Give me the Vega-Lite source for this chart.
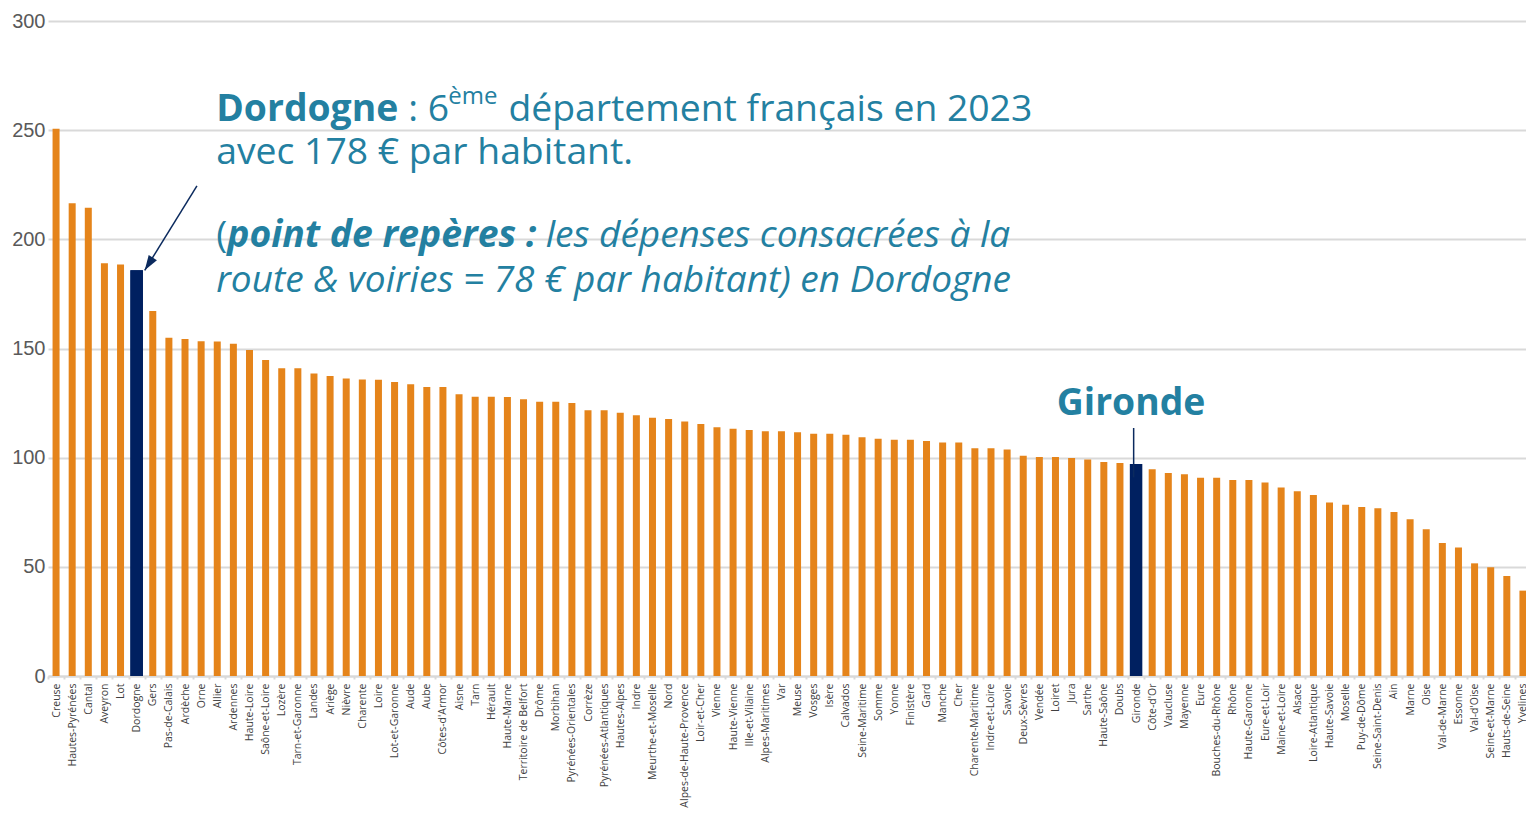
{
  "$schema": "https://vega.github.io/schema/vega-lite/v6.json",
  "width": 1478,
  "height": 655,
  "autosize": {"type": "none"},
  "padding": {"left": 48, "top": 21, "right": 0, "bottom": 143},
  "background": "#ffffff",
  "config": {"view": {"stroke": null}, "font": "Open Sans"},
  "datasets": {
    "bars": [
      {"d": "Creuse", "v": 250.6},
      {"d": "Hautes-Pyrénées", "v": 216.5},
      {"d": "Cantal", "v": 214.5},
      {"d": "Aveyron", "v": 189.1},
      {"d": "Lot", "v": 188.5},
      {"d": "Dordogne", "v": 185.8},
      {"d": "Gers", "v": 167.2},
      {"d": "Pas-de-Calais", "v": 154.9},
      {"d": "Ardèche", "v": 154.3},
      {"d": "Orne", "v": 153.3},
      {"d": "Allier", "v": 153.2},
      {"d": "Ardennes", "v": 152.2},
      {"d": "Haute-Loire", "v": 149.3},
      {"d": "Saône-et-Loire", "v": 144.7},
      {"d": "Lozère", "v": 140.9},
      {"d": "Tarn-et-Garonne", "v": 140.9},
      {"d": "Landes", "v": 138.6},
      {"d": "Ariège", "v": 137.4},
      {"d": "Nièvre", "v": 136.3},
      {"d": "Charente", "v": 135.8},
      {"d": "Loire", "v": 135.7},
      {"d": "Lot-et-Garonne", "v": 134.7},
      {"d": "Aude", "v": 133.6},
      {"d": "Aube", "v": 132.4},
      {"d": "Côtes-d'Armor", "v": 132.4},
      {"d": "Aisne", "v": 129.0},
      {"d": "Tarn", "v": 127.9},
      {"d": "Hérault", "v": 127.9},
      {"d": "Haute-Marne", "v": 127.8},
      {"d": "Territoire de Belfort", "v": 126.7},
      {"d": "Drôme", "v": 125.6},
      {"d": "Morbihan", "v": 125.6},
      {"d": "Pyrénées-Orientales", "v": 125.0},
      {"d": "Corrèze", "v": 121.7},
      {"d": "Pyrénées-Atlantiques", "v": 121.7},
      {"d": "Hautes-Alpes", "v": 120.6},
      {"d": "Indre", "v": 119.4},
      {"d": "Meurthe-et-Moselle", "v": 118.3},
      {"d": "Nord", "v": 117.7},
      {"d": "Alpes-de-Haute-Provence", "v": 116.6},
      {"d": "Loir-et-Cher", "v": 115.4},
      {"d": "Vienne", "v": 113.9},
      {"d": "Haute-Vienne", "v": 113.3},
      {"d": "Ille-et-Vilaine", "v": 112.7},
      {"d": "Alpes-Maritimes", "v": 112.1},
      {"d": "Var", "v": 112.1},
      {"d": "Meuse", "v": 111.6},
      {"d": "Vosges", "v": 111.0},
      {"d": "Isère", "v": 111.0},
      {"d": "Calvados", "v": 110.5},
      {"d": "Seine-Maritime", "v": 109.3},
      {"d": "Somme", "v": 108.7},
      {"d": "Yonne", "v": 108.2},
      {"d": "Finistère", "v": 108.2},
      {"d": "Gard", "v": 107.6},
      {"d": "Manche", "v": 107.0},
      {"d": "Cher", "v": 107.0},
      {"d": "Charente-Maritime", "v": 104.3},
      {"d": "Indre-et-Loire", "v": 104.3},
      {"d": "Savoie", "v": 103.7},
      {"d": "Deux-Sèvres", "v": 100.9},
      {"d": "Vendée", "v": 100.3},
      {"d": "Loiret", "v": 100.3},
      {"d": "Jura", "v": 99.8},
      {"d": "Sarthe", "v": 99.2},
      {"d": "Haute-Saône", "v": 98.0},
      {"d": "Doubs", "v": 97.6},
      {"d": "Gironde", "v": 97.1},
      {"d": "Côte-d'Or", "v": 94.7},
      {"d": "Vaucluse", "v": 93.0},
      {"d": "Mayenne", "v": 92.4},
      {"d": "Eure", "v": 90.8},
      {"d": "Bouches-du-Rhône", "v": 90.8},
      {"d": "Rhône", "v": 89.8},
      {"d": "Haute-Garonne", "v": 89.8},
      {"d": "Eure-et-Loir", "v": 88.6},
      {"d": "Maine-et-Loire", "v": 86.3},
      {"d": "Alsace", "v": 84.6},
      {"d": "Loire-Atlantique", "v": 82.9},
      {"d": "Haute-Savoie", "v": 79.5},
      {"d": "Moselle", "v": 78.4},
      {"d": "Puy-de-Dôme", "v": 77.4},
      {"d": "Seine-Saint-Denis", "v": 76.8},
      {"d": "Ain", "v": 75.1},
      {"d": "Marne", "v": 71.8},
      {"d": "Oise", "v": 67.2},
      {"d": "Val-de-Marne", "v": 60.9},
      {"d": "Essonne", "v": 58.8},
      {"d": "Val-d'Oise", "v": 51.6},
      {"d": "Seine-et-Marne", "v": 49.8},
      {"d": "Hauts-de-Seine", "v": 45.8},
      {"d": "Yvelines", "v": 39.1}
    ]
  },
  "layer": [
    {
      "data": {"name": "bars"},
      "mark": {"type": "bar", "clip": false},
      "encoding": {
        "x": {
          "field": "d",
          "type": "nominal",
          "title": null,
          "scale": {
            "domain": ["Creuse","Hautes-Pyrénées","Cantal","Aveyron","Lot","Dordogne","Gers","Pas-de-Calais","Ardèche","Orne","Allier","Ardennes","Haute-Loire","Saône-et-Loire","Lozère","Tarn-et-Garonne","Landes","Ariège","Nièvre","Charente","Loire","Lot-et-Garonne","Aude","Aube","Côtes-d'Armor","Aisne","Tarn","Hérault","Haute-Marne","Territoire de Belfort","Drôme","Morbihan","Pyrénées-Orientales","Corrèze","Pyrénées-Atlantiques","Hautes-Alpes","Indre","Meurthe-et-Moselle","Nord","Alpes-de-Haute-Provence","Loir-et-Cher","Vienne","Haute-Vienne","Ille-et-Vilaine","Alpes-Maritimes","Var","Meuse","Vosges","Isère","Calvados","Seine-Maritime","Somme","Yonne","Finistère","Gard","Manche","Cher","Charente-Maritime","Indre-et-Loire","Savoie","Deux-Sèvres","Vendée","Loiret","Jura","Sarthe","Haute-Saône","Doubs","Gironde","Côte-d'Or","Vaucluse","Mayenne","Eure","Bouches-du-Rhône","Rhône","Haute-Garonne","Eure-et-Loir","Maine-et-Loire","Alsace","Loire-Atlantique","Haute-Savoie","Moselle","Puy-de-Dôme","Seine-Saint-Denis","Ain","Marne","Oise","Val-de-Marne","Essonne","Val-d'Oise","Seine-et-Marne","Hauts-de-Seine","Yvelines"],
            "range": [0, 1483],
            "paddingInner": 0,
            "paddingOuter": 0
          },
          "axis": {
            "labelAngle": -90,
            "labelFont": "Open Sans",
            "labelFontSize": 10.5,
            "labelColor": "#404040",
            "labelOverlap": false,
            "labelLimit": 300,
            "labelPadding": 4,
            "domainColor": "#d9d9d9",
            "domainWidth": 2,
            "tickColor": "#d9d9d9",
            "tickWidth": 2,
            "tickSize": 3,
            "tickBand": "extent",
            "grid": false,
            "zindex": 0
          }
        },
        "y": {
          "field": "v",
          "type": "quantitative",
          "title": null,
          "scale": {"domain": [0, 300], "nice": false, "zero": true},
          "axis": {
            "values": [0, 50, 100, 150, 200, 250, 300],
            "domain": false,
            "ticks": false,
            "labelFont": "Liberation Sans",
            "labelFontSize": 20,
            "labelColor": "#595959",
            "labelPadding": 3,
            "gridColor": "#d9d9d9",
            "gridWidth": 2
          }
        },
        "color": {
          "condition": {"test": "datum.d === 'Dordogne' || datum.d === 'Gironde'", "value": "#002060"},
          "value": "#e5841a"
        },
        "size": {
          "condition": {"test": "datum.d === 'Dordogne' || datum.d === 'Gironde'", "value": 12.5},
          "value": 7
        }
      }
    },
    {
      "data": {"values": [
        {"x": "Orne", "x2": "Dordogne", "y": 224.5, "y2": 185.8}
      ]},
      "mark": {"type": "rule", "color": "#0b2a5e", "strokeWidth": 1.5},
      "encoding": {
        "x": {"field": "x", "type": "nominal", "bandPosition": 0.24},
        "x2": {"field": "x2", "bandPosition": 1.0},
        "y": {"field": "y", "type": "quantitative"},
        "y2": {"field": "y2"}
      }
    },
    {
      "data": {"values": [
        {"x": "Gironde", "y": 113.6, "y2": 91.0}
      ]},
      "mark": {"type": "rule", "color": "#0b2a5e", "strokeWidth": 1.5},
      "encoding": {
        "x": {"field": "x", "type": "nominal", "bandPosition": 0.35},
        "y": {"field": "y", "type": "quantitative"},
        "y2": {"field": "y2"}
      }
    },
    {
      "data": {"values": [{"x": "Dordogne", "y": 185.8}]},
      "mark": {"type": "point", "shape": "M0,0 L-0.65,2 L0.65,2 Z", "filled": true, "opacity": 1, "color": "#0b2a5e", "size": 225, "angle": 212.7},
      "encoding": {
        "x": {"field": "x", "type": "nominal", "bandPosition": 1.0},
        "y": {"field": "y", "type": "quantitative"}
      }
    },
    {
      "data": {"values": [{"x": "Dordogne", "y": 185.8}]},
      "mark": {"type": "bar", "color": "#002060", "size": 12.5},
      "encoding": {
        "x": {"field": "x", "type": "nominal"},
        "y": {"field": "y", "type": "quantitative"}
      }
    },
    {
      "data": {"values": [{"x": "Allier", "y": 254.2, "t": "Dordogne"}]},
      "mark": {"type": "text", "font": "Open Sans", "fontSize": 37.3, "fontWeight": "bold", "color": "#2380a1", "align": "left", "baseline": "alphabetic", "dx": -1},
      "encoding": {"x": {"field": "x", "type": "nominal"}, "y": {"field": "y", "type": "quantitative"}, "text": {"field": "t"}}
    },
    {
      "data": {"values": [{"x": "Allier", "y": 254.2, "t": ": 6"}]},
      "mark": {"type": "text", "font": "Open Sans", "fontSize": 37.3, "color": "#2380a1", "align": "left", "baseline": "alphabetic", "dx": 191},
      "encoding": {"x": {"field": "x", "type": "nominal"}, "y": {"field": "y", "type": "quantitative"}, "text": {"field": "t"}}
    },
    {
      "data": {"values": [{"x": "Allier", "y": 262.0, "t": "ème"}]},
      "mark": {"type": "text", "font": "Open Sans", "fontSize": 24, "color": "#2380a1", "align": "left", "baseline": "alphabetic", "dx": 231},
      "encoding": {"x": {"field": "x", "type": "nominal"}, "y": {"field": "y", "type": "quantitative"}, "text": {"field": "t"}}
    },
    {
      "data": {"values": [{"x": "Allier", "y": 254.2, "t": "département français en 2023"}]},
      "mark": {"type": "text", "font": "Open Sans", "fontSize": 37.3, "color": "#2380a1", "align": "right", "baseline": "alphabetic", "dx": 815},
      "encoding": {"x": {"field": "x", "type": "nominal"}, "y": {"field": "y", "type": "quantitative"}, "text": {"field": "t"}}
    },
    {
      "data": {"values": [{"x": "Allier", "y": 234.6, "t": "avec 178 € par habitant."}]},
      "mark": {"type": "text", "font": "Open Sans", "fontSize": 37.3, "color": "#2380a1", "align": "left", "baseline": "alphabetic", "dx": -1},
      "encoding": {"x": {"field": "x", "type": "nominal"}, "y": {"field": "y", "type": "quantitative"}, "text": {"field": "t"}}
    },
    {
      "data": {"values": [{"x": "Allier", "y": 196.3, "t": "("}]},
      "mark": {"type": "text", "font": "Open Sans", "fontSize": 37.3, "color": "#2380a1", "align": "left", "baseline": "alphabetic", "dx": -1},
      "encoding": {"x": {"field": "x", "type": "nominal"}, "y": {"field": "y", "type": "quantitative"}, "text": {"field": "t"}}
    },
    {
      "data": {"values": [{"x": "Allier", "y": 196.3, "t": "point de repères :"}]},
      "mark": {"type": "text", "font": "Open Sans", "fontSize": 37.3, "fontWeight": "bold", "fontStyle": "italic", "color": "#2380a1", "align": "left", "baseline": "alphabetic", "dx": 10},
      "encoding": {"x": {"field": "x", "type": "nominal"}, "y": {"field": "y", "type": "quantitative"}, "text": {"field": "t"}}
    },
    {
      "data": {"values": [{"x": "Allier", "y": 196.3, "t": "les dépenses consacrées à la"}]},
      "mark": {"type": "text", "font": "Open Sans", "fontSize": 37, "fontStyle": "italic", "color": "#2380a1", "align": "right", "baseline": "alphabetic", "dx": 793},
      "encoding": {"x": {"field": "x", "type": "nominal"}, "y": {"field": "y", "type": "quantitative"}, "text": {"field": "t"}}
    },
    {
      "data": {"values": [{"x": "Allier", "y": 175.7, "t": "route & voiries = 78 € par habitant) en Dordogne"}]},
      "mark": {"type": "text", "font": "Open Sans", "fontSize": 37, "fontStyle": "italic", "color": "#2380a1", "align": "left", "baseline": "alphabetic", "dx": -1},
      "encoding": {"x": {"field": "x", "type": "nominal"}, "y": {"field": "y", "type": "quantitative"}, "text": {"field": "t"}}
    },
    {
      "data": {"values": [{"x": "Gironde", "y": 119.5, "t": "Gironde"}]},
      "mark": {"type": "text", "font": "Open Sans", "fontSize": 37.3, "fontWeight": "bold", "color": "#2380a1", "align": "center", "baseline": "alphabetic", "dx": -5},
      "encoding": {"x": {"field": "x", "type": "nominal"}, "y": {"field": "y", "type": "quantitative"}, "text": {"field": "t"}}
    }
  ]
}
